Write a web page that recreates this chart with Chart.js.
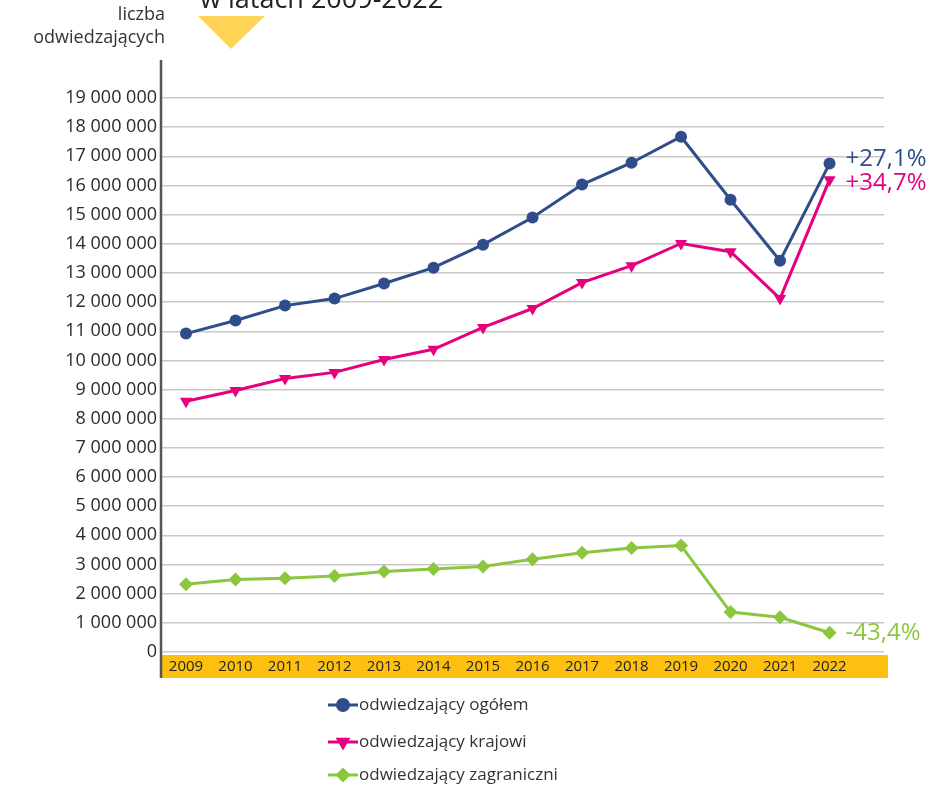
<!DOCTYPE html>
<html><head><meta charset="utf-8">
<script src="https://cdn.jsdelivr.net/npm/chart.js@4/dist/chart.umd.min.js"></script>
<style>html,body{margin:0;padding:0;background:#fff}#wrap{width:938px;height:787px;position:relative}</style>
</head><body><div id="wrap"><canvas id="c" width="938" height="787"></canvas></div>
<script>
const years = [2009,2010,2011,2012,2013,2014,2015,2016,2017,2018,2019,2020,2021,2022];
const ogolem = [10920000,11370000,11880000,12120000,12640000,13180000,13970000,14900000,16030000,16780000,17670000,15510000,13420000,16750000];
const krajowi = [8600000,8970000,9380000,9590000,10030000,10380000,11130000,11780000,12670000,13250000,14010000,13730000,12120000,16200000];
const zagraniczni = [2320000,2490000,2530000,2610000,2760000,2850000,2930000,3180000,3400000,3570000,3650000,1370000,1190000,660000];
const seriesNames = ['odwiedzający ogółem','odwiedzający krajowi','odwiedzający zagraniczni'];
const changeLabels = ['+27,1%','+34,7%','-43,4%'];
const yTicks = [0,1e6,2e6,3e6,4e6,5e6,6e6,7e6,8e6,9e6,10e6,11e6,12e6,13e6,14e6,15e6,16e6,17e6,18e6,19e6];
const titleText = 'w latach 2009-2022';
const axisTitle = ['liczba','odwiedzających'];

const BLUE='#2f4d8a', PINK='#e5007d', GREEN='#8cc63e';
const FONT="'Open Sans', 'Noto Sans', sans-serif";
const fmt = v => String(v).replace(/\B(?=(\d{3})+(?!\d))/g,' ');
const pts = arr => arr.map((v,i)=>({x:years[i],y:v}));

const deco = {
  id:'deco',
  beforeDraw(chart){
    const ctx=chart.ctx, ca=chart.chartArea;
    ctx.save();
    ctx.fillStyle='#fdc010';
    ctx.fillRect(ca.left, ca.bottom+3, 888-ca.left, 23);
    ctx.fillStyle='#ffd457';
    ctx.beginPath();ctx.moveTo(198,16);ctx.lineTo(265,16);ctx.lineTo(231,49);ctx.closePath();ctx.fill();
    ctx.fillStyle='#222';ctx.font='27px '+FONT;ctx.textAlign='left';ctx.textBaseline='alphabetic';
    ctx.fillText(titleText,200,8);
    ctx.fillStyle='#333';ctx.font='18px '+FONT;ctx.textAlign='right';ctx.textBaseline='middle';
    ctx.fillText(axisTitle[0],165,15);
    ctx.fillText(axisTitle[1],165,38);
    ctx.restore();
  },
  afterDatasetsDraw(chart){
    const ctx=chart.ctx, ca=chart.chartArea;
    ctx.save();
    ctx.strokeStyle='#555';ctx.lineWidth=2.5;
    ctx.beginPath();ctx.moveTo(ca.left-1,60);ctx.lineTo(ca.left-1,678);ctx.stroke();
    const offs=[-4,4,0];
    ctx.font='24px '+FONT;ctx.textAlign='left';ctx.textBaseline='middle';
    chart.data.datasets.forEach((ds,i)=>{
      const meta=chart.getDatasetMeta(i);
      const p=meta.data[meta.data.length-1];
      ctx.fillStyle=ds.borderColor;
      ctx.fillText(changeLabels[i],p.x+16,p.y+offs[i]);
    });
    const rows=[705,742,775];
    chart.data.datasets.forEach((ds,i)=>{
      const y=rows[i];
      ctx.strokeStyle=ds.borderColor;ctx.lineWidth=3;
      ctx.beginPath();ctx.moveTo(328,y);ctx.lineTo(358,y);ctx.stroke();
      Chart.helpers.drawPoint(ctx,{pointStyle:ds.pointStyle,radius:5.5,rotation:ds.pointRotation||0,borderWidth:1},343,y);
      ctx.fillStyle=ds.borderColor;ctx.fill();
      ctx.fillStyle='#333';ctx.font='17px '+FONT;ctx.textAlign='left';ctx.textBaseline='middle';
      ctx.fillText(ds.label,359,y);
    });
    ctx.restore();
  }
};

new Chart(document.getElementById('c'),{
  type:'line',
  data:{datasets:[
    {label:seriesNames[0],data:pts(ogolem),borderColor:BLUE,backgroundColor:BLUE,borderWidth:3,pointStyle:'circle',pointRadius:6,pointBorderWidth:0},
    {label:seriesNames[1],data:pts(krajowi),borderColor:PINK,backgroundColor:PINK,borderWidth:3,pointStyle:'triangle',pointRotation:180,pointRadius:7,pointBorderWidth:0},
    {label:seriesNames[2],data:pts(zagraniczni),borderColor:GREEN,backgroundColor:GREEN,borderWidth:3,pointStyle:'rectRot',pointRadius:7,pointBorderWidth:0}
  ]},
  options:{
    responsive:false,animation:false,
    layout:{padding:{top:98,right:54,left:0,bottom:0}},
    plugins:{legend:{display:false},tooltip:{enabled:false}},
    scales:{
      x:{type:'linear',min:2008.515,max:2023.1,
        grid:{display:false,drawTicks:false},border:{display:false},
        afterBuildTicks:s=>{s.ticks=years.map(v=>({value:v}));},
        afterFit:s=>{s.height=135;},
        ticks:{padding:6,autoSkip:false,maxRotation:0,color:'#222',font:{family:FONT,size:15},callback:v=>String(v)}
      },
      y:{min:0,max:19e6,
        afterBuildTicks:s=>{s.ticks=yTicks.map(v=>({value:v}));},
        afterFit:s=>{s.width=162;},
        grid:{color:'#c8c8c8',lineWidth:1.5,drawTicks:false},border:{display:false},
        ticks:{padding:5,color:'#2a2a2a',font:{family:FONT,size:18,weight:'500'},callback:v=>fmt(v)}
      }
    }
  },
  plugins:[deco]
});
</script></body></html>
